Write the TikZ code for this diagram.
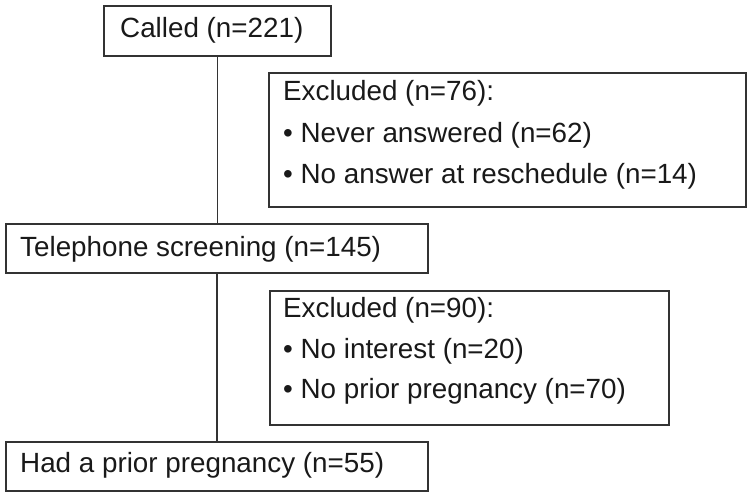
\documentclass[tikz,border=0pt]{standalone}
\usepackage{fontspec}
\setmainfont{Liberation Sans}
\begin{document}
\begin{tikzpicture}[x=1pt,y=-1pt,
  box/.style={draw=black!80, line width=1.8pt, rectangle, inner sep=0pt, anchor=north west},
  txt/.style={anchor=base west, inner sep=0pt, text=black!90, font=\fontsize{27.8}{33}\selectfont},
  link/.style={draw=black!80, line width=1.8pt}]
\useasboundingbox (0,0) rectangle (750,496);
% boxes
\node[box, minimum width=227, minimum height=50] (called) at (103,5) {};
\node[box, minimum width=477, minimum height=134] (exa) at (268,72) {};
\node[box, minimum width=422, minimum height=49] (tel) at (5,223) {};
\node[box, minimum width=399, minimum height=134] (exb) at (269,290) {};
\node[box, minimum width=422, minimum height=49] (fin) at (5,441) {};
% texts
\node[txt] (tcalled) at (120,37) {Called (n=221)};
\node[txt] (ta1) at (283,100) {Excluded (n=76):};
\node[txt] (ta2) at (283,142) {• Never answered (n=62)};
\node[txt] (ta3) at (283,183) {• No answer at reschedule (n=14)};
\node[txt] (ttel) at (20,256) {Telephone screening (n=145)};
\node[txt] (tb1) at (283,317) {Excluded (n=90):};
\node[txt] (tb2) at (283,358) {• No interest (n=20)};
\node[txt] (tb3) at (283,398) {• No prior pregnancy (n=70)};
\node[txt] (tfin) at (20,472) {Had a prior pregnancy (n=55)};
% connectors
\draw[link] (called.south) -- (called.south |- tel.north);
\draw[link] (tel.south) -- (tel.south |- fin.north);
\end{tikzpicture}
\end{document}
